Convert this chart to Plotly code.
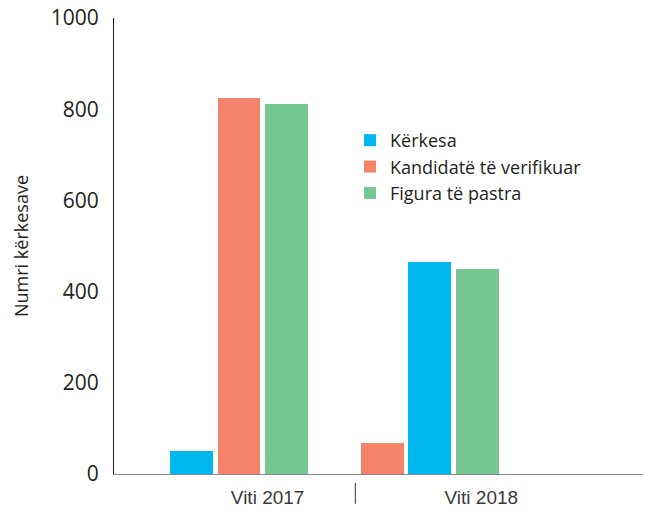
import plotly.graph_objects as go

# ---- data ----
years = ["Viti 2017", "Viti 2018"]
series_names = ["Kërkesa", "Kandidatë të verifikuar", "Figura të pastra"]
kerkesa = [50, 464]
kandidate = [824, 68]
figura = [811, 449]
# order of the bars inside each year group, as drawn in the chart
group_order = [
    ["Kërkesa", "Kandidatë të verifikuar", "Figura të pastra"],
    ["Kandidatë të verifikuar", "Kërkesa", "Figura të pastra"],
]

values = {"Kërkesa": kerkesa, "Kandidatë të verifikuar": kandidate, "Figura të pastra": figura}
colors = {"Kërkesa": "#00B7F0", "Kandidatë të verifikuar": "#F4836A", "Figura të pastra": "#77C792"}

GROUP_STRIDE = 4  # 3 bars + 1 empty slot per year

fig = go.Figure()
for name in series_names:
    xs = [yi * GROUP_STRIDE + group_order[yi].index(name) for yi in range(len(years))]
    fig.add_trace(go.Bar(
        x=xs, y=values[name], name=name, width=0.9,
        marker=dict(color=colors[name], line=dict(width=0)),
        hovertext=years, hovertemplate="%{hovertext}<br>" + name + ": %{y}<extra></extra>",
    ))

fig.add_shape(type="line", xref="x", yref="paper", x0=3.44, x1=3.44, y0=-0.0196, y1=-0.0654,
              line=dict(color="#555555", width=1.2))

fig.update_layout(
    width=645, height=510,
    margin=dict(l=114, r=2, t=18, b=33),
    paper_bgcolor="white", plot_bgcolor="white",
    font=dict(family="Open Sans", color="#231f20"),
    showlegend=True,
    legend=dict(x=(350 - 114) / 529, xanchor="left", y=0.772, yanchor="top",
                font=dict(size=18, family="Open Sans", color="#231f20"),
                bgcolor="rgba(0,0,0,0)", traceorder="normal"),
    bargap=0,
    xaxis=dict(range=[-1.62, 9.47], showgrid=False, zeroline=False,
               showline=True, linecolor="#8a8a8a", linewidth=1.2,
               tickvals=[1.6, 6.08], ticktext=years, ticks="",
               tickfont=dict(family="Liberation Sans", size=19, color="#3a3a3a"),
               ticklabelstandoff=6, fixedrange=True),
    yaxis=dict(range=[0, 1000], tickvals=[0, 200, 400, 600, 800, 1000],
               showgrid=False, zeroline=False, showline=True, linecolor="#231f20", linewidth=1.2,
               ticks="", ticklabelstandoff=10,
               tickfont=dict(family="Open Sans", size=21, color="#231f20"),
               title=dict(text="Numri kërkesave", standoff=17,
                          font=dict(family="Open Sans", size=18, color="#231f20")),
               automargin=False, fixedrange=True),
)

fig.write_html("out.html", config={"displayModeBar": False},
               post_script="document.body.style.margin='0';document.body.style.overflow='hidden';")
